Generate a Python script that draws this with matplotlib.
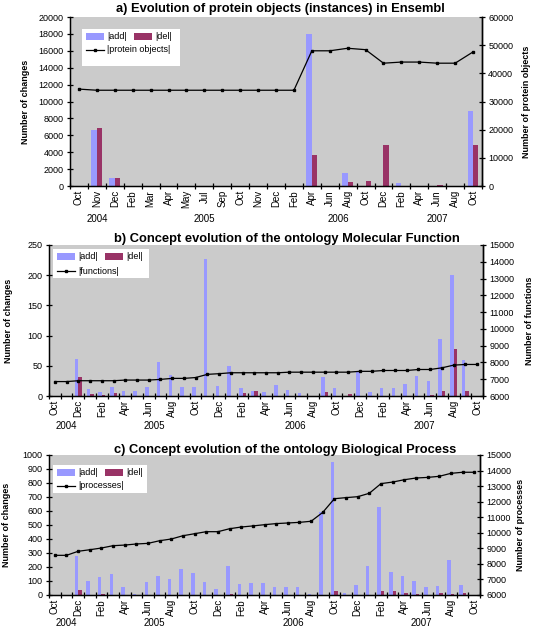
import numpy as np
import matplotlib
matplotlib.use('Agg')
import matplotlib.pyplot as plt
from matplotlib.patches import Rectangle
from matplotlib.lines import Line2D
from matplotlib.transforms import blended_transform_factory

plt.rcParams['font.family'] = ['Liberation Sans', 'DejaVu Sans']

W, H = 535, 630

# ---------------------------------------------------------------------------
# Datos

# a) Ensembl
meses_a = ['Oct', 'Nov', 'Dec', 'Feb', 'Mar', 'Apr', 'May', 'Jul', 'Sep', 'Oct',
           'Nov', 'Dec', 'Feb', 'Apr', 'Jun', 'Aug', 'Oct', 'Dec', 'Feb', 'Apr',
           'Jun', 'Aug', 'Oct']
add_a = [0, 6600, 1000, 0, 0, 0, 0, 0, 0, 0, 0, 0, 0, 18000, 0, 1500, 0, 0,
         300, 50, 0, 0, 8900]
del_a = [0, 6850, 1000, 0, 0, 0, 0, 0, 0, 0, 0, 0, 0, 3650, 0, 520, 640, 4840,
         50, 0, 160, 0, 4840]
prot_a = [34400, 34000, 34000, 34000, 34000, 34000, 34000, 34000, 34000, 34000,
          34000, 34000, 34000, 48000, 48000, 48900, 48400, 43600, 44000, 44000,
          43600, 43600, 47600]
anios_a = [('2004', 0, 2), ('2005', 3, 11), ('2006', 12, 17), ('2007', 18, 22)]

# meses para b) y c): Oct 2004 .. Oct 2007
meses_bc = ['Oct', 'Nov', 'Dec',
            'Jan', 'Feb', 'Mar', 'Apr', 'May', 'Jun', 'Jul', 'Aug', 'Sep', 'Oct', 'Nov', 'Dec',
            'Jan', 'Feb', 'Mar', 'Apr', 'May', 'Jun', 'Jul', 'Aug', 'Sep', 'Oct', 'Nov', 'Dec',
            'Jan', 'Feb', 'Mar', 'Apr', 'May', 'Jun', 'Jul', 'Aug', 'Sep', 'Oct']
anios_bc = [('2004', 0, 2), ('2005', 3, 14), ('2006', 15, 26), ('2007', 27, 36)]

# b) Molecular Function
add_b = [0, 0, 62, 12, 7, 15, 9, 9, 15, 56, 34, 15, 15, 226, 17, 50, 14, 9, 7,
         18, 10, 5, 0, 31, 13, 0, 41, 7, 13, 13, 20, 33, 25, 94, 201, 59, 0]
del_b = [0, 0, 32, 4, 2, 5.5, 0, 0, 0, 0, 0, 0, 0, 0, 0, 0, 5, 9, 0, 0, 0, 0, 0,
         6.5, 0, 3.3, 0, 0, 0, 0, 0, 0, 2, 8, 78, 8, 0]
func_b = [6860, 6860, 6910, 6910, 6910, 6910, 6950, 6950, 6950, 6990, 7050, 7050,
          7100, 7290, 7330, 7385, 7385, 7385, 7385, 7385, 7420, 7420, 7420, 7420,
          7420, 7420, 7470, 7470, 7520, 7520, 7520, 7580, 7580, 7680, 7840, 7880, 7880]

# c) Biological Process
add_c = [0, 0, 279, 100, 129, 150, 60, 7, 93, 136, 114, 186, 157, 93, 43, 207, 79,
         86, 83, 57, 57, 57, 7, 593, 950, 12, 71, 207, 629, 164, 136, 100, 57, 64,
         250, 71, 0]
del_c = [0, 0, 36, 0, 7, 0, 0, 0, 0, 0, 0, 0, 0, 0, 0, 7, 0, 0, 0, 0, 0, 0, 0, 0,
         29, 0, 0, 0, 29, 29, 14, 7, 0, 14, 7, 14, 0]
proc_c = [8550, 8550, 8810, 8910, 9020, 9170, 9210, 9280, 9320, 9490, 9600, 9810,
          9940, 10070, 10070, 10260, 10370, 10440, 10520, 10590, 10630, 10670,
          10740, 11310, 12190, 12260, 12320, 12540, 13160, 13260, 13410, 13520,
          13560, 13630, 13820, 13890, 13890]

AZUL = '#9999ff'
GRANATE = '#993366'
GRIS = '#cbcbcb'
FS = 6.5

# ---------------------------------------------------------------------------

def caja(x0, y0, x1, y1):
  # rectangulo en pixeles -> fraccion de figura
  return [x0 / W, 1 - y1 / H, (x1 - x0) / W, (y1 - y0) / H]

def panel(fig, pos, meses, add, dele, total, anios, paso, y_anio,
          ylim, yticks, ylim2, yticks2, titulo, tit_y, ylab2, xlab, xlab2):
  ax = fig.add_axes(caja(*pos))
  n = len(meses)
  x = np.arange(n)
  w = 0.3
  ax.set_facecolor(GRIS)
  ax.bar(x - w / 2, add, w, color=AZUL, zorder=2)
  ax.bar(x + w / 2, dele, w, color=GRANATE, zorder=2)
  ax.set_xlim(-0.5, n - 0.5)
  ax.set_ylim(*ylim)
  ax.set_yticks(yticks)
  ax.spines['top'].set_visible(False)
  for s in ['left', 'right', 'bottom']:
    ax.spines[s].set_linewidth(1.0)
  # marcas entre categorias, etiquetas en el centro
  ax.set_xticks(np.arange(n + 1) - 0.5)
  ax.set_xticklabels([])
  ax.set_xticks(x[::paso], minor=True)
  ax.set_xticklabels(meses[::paso], minor=True, rotation=90, fontsize=7)
  ax.tick_params(axis='x', which='major', direction='inout', length=5, width=0.9)
  ax.tick_params(axis='x', which='minor', length=0, pad=3)
  ax.tick_params(axis='y', direction='inout', length=5, width=0.9, labelsize=FS, pad=2)

  ax2 = ax.twinx()
  ax2.plot(x, total, color='black', lw=0.9, marker='s', ms=1.8, zorder=3)
  ax2.set_ylim(*ylim2)
  ax2.set_yticks(yticks2)
  ax2.spines['top'].set_visible(False)
  ax2.spines['right'].set_linewidth(1.0)
  ax2.tick_params(axis='y', direction='inout', length=5, width=0.9, labelsize=FS, pad=2)

  ax.set_ylabel('Number of changes', fontsize=FS, fontweight='bold')
  ax.yaxis.set_label_coords(xlab, 0.5)
  ax.yaxis.label.set_va('center')
  ax2.set_ylabel(ylab2, fontsize=FS, fontweight='bold')
  ax2.yaxis.set_label_coords(xlab2, 0.5)
  ax2.yaxis.label.set_va('center')

  # años bajo los meses
  tr = blended_transform_factory(ax.transData, fig.transFigure)
  for nombre, i0, i1 in anios:
    ax.text((i0 + i1) / 2, 1 - y_anio / H, nombre, transform=tr,
            ha='center', va='center', fontsize=7)

  fig.text(titulo[1] / W, 1 - tit_y / H, titulo[0], ha='center', va='center',
           fontsize=9.3, fontweight='bold')
  return ax

def leyenda(fig, x0, y0, ancho, alto, texto_linea, dy2):
  # leyenda dibujada a mano: fila de barras y fila de la linea
  px = lambda v: v / W
  py = lambda v: 1 - v / H
  fig.patches.append(Rectangle((px(x0), py(y0 + alto)), ancho / W, alto / H,
                               transform=fig.transFigure, facecolor='white',
                               edgecolor='none', zorder=5))
  fila = y0 + 7.5
  fig.patches.append(Rectangle((px(x0 + 4), py(fila + 3.5)), 18 / W, 7 / H,
                               transform=fig.transFigure, facecolor=AZUL,
                               edgecolor='none', zorder=6))
  fig.text(px(x0 + 25), py(fila), '|add|', fontsize=FS, va='center', zorder=6)
  fig.patches.append(Rectangle((px(x0 + 52), py(fila + 3.5)), 18 / W, 7 / H,
                               transform=fig.transFigure, facecolor=GRANATE,
                               edgecolor='none', zorder=6))
  fig.text(px(x0 + 73), py(fila), '|del|', fontsize=FS, va='center', zorder=6)
  fila2 = y0 + dy2
  fig.lines.append(Line2D([px(x0 + 4), px(x0 + 22)], [py(fila2), py(fila2)],
                          transform=fig.transFigure, color='black', lw=0.9, zorder=6))
  fig.lines.append(Line2D([px(x0 + 13)], [py(fila2)], transform=fig.transFigure,
                          color='black', marker='s', ms=1.8, zorder=6))
  fig.text(px(x0 + 25), py(fila2), texto_linea, fontsize=FS, va='center', zorder=6)

# ---------------------------------------------------------------------------

fig = plt.figure(figsize=(W / 100, H / 100), dpi=100)

panel(fig, (70, 17, 482, 186), meses_a, add_a, del_a, prot_a, anios_a, 1, 219,
      (0, 20000), np.arange(0, 20001, 2000), (0, 60000), np.arange(0, 60001, 10000),
      ('a) Evolution of protein objects (instances) in Ensembl', 280), 9,
      'Number of protein objects', -0.108, 1.108)
leyenda(fig, 82, 29, 98, 37, '|protein objects|', 21)

panel(fig, (49, 245, 483, 396), meses_bc, add_b, del_b, func_b, anios_bc, 2, 426,
      (0, 250), np.arange(0, 251, 50), (6000, 15000), np.arange(6000, 15001, 1000),
      ('b) Concept evolution of the ontology Molecular Function', 287), 239,
      'Number of functions', -0.094, 1.106)
leyenda(fig, 53, 249, 96, 29, '|functions|', 22)

panel(fig, (49, 455, 480, 595), meses_bc, add_c, del_c, proc_c, anios_bc, 2, 623,
      (0, 1000), np.arange(0, 1001, 100), (6000, 15000), np.arange(6000, 15001, 1000),
      ('c) Concept evolution of the ontology Biological Process', 285), 450,
      'Number of processes', -0.098, 1.094)
leyenda(fig, 53, 465, 94, 28, '|processes|', 21)

fig.savefig('out.png', dpi=100)
